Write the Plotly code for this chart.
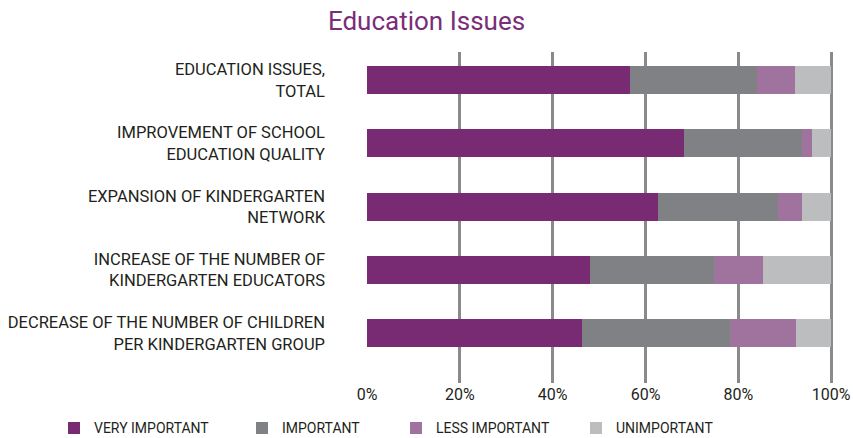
import plotly.graph_objects as go

categories = [
    "EDUCATION ISSUES,<br>TOTAL",
    "IMPROVEMENT OF SCHOOL<br>EDUCATION QUALITY",
    "EXPANSION OF KINDERGARTEN<br>NETWORK",
    "INCREASE OF THE NUMBER OF<br>KINDERGARTEN EDUCATORS",
    "DECREASE OF THE NUMBER OF CHILDREN<br>PER KINDERGARTEN GROUP",
]

very_important = [56.6, 68.4, 62.8, 48.0, 46.3]
important = [27.4, 25.3, 25.7, 26.7, 31.9]
less_important = [8.2, 2.1, 5.2, 10.6, 14.2]
unimportant = [7.8, 4.2, 6.3, 14.7, 7.6]

x_ticks = [0, 20, 40, 60, 80, 100]

FONT = "Roboto, sans-serif"
TEXT = "#231f20"

# name, values, colour, legend id, left pixel of legend swatch
series = [
    ("VERY IMPORTANT", very_important, "#782a73", "legend", 75),
    ("IMPORTANT", important, "#808184", "legend2", 263),
    ("LESS IMPORTANT", less_important, "#a0739e", "legend3", 417),
    ("UNIMPORTANT", unimportant, "#bcbdbf", "legend4", 597),
]

fig = go.Figure()

for name, vals, color, lg, _ in series:
    fig.add_trace(go.Bar(
        y=categories,
        x=vals,
        name=name,
        orientation="h",
        marker=dict(color=color, line=dict(width=0)),
        width=0.443,
        legend=lg,
    ))

legend_style = dict(
    orientation="h",
    yanchor="middle",
    y=-0.137,
    xanchor="left",
    font=dict(family=FONT, size=14, color=TEXT),
    bgcolor="rgba(0,0,0,0)",
    itemwidth=30,
)
legends = {}
for name, vals, color, lg, px in series:
    legends[lg] = dict(legend_style, x=(px - 21 - 367) / 466)

fig.update_layout(
    barmode="stack",
    width=853,
    height=438,
    margin=dict(l=367, r=20, t=52, b=55, autoexpand=False),
    plot_bgcolor="white",
    paper_bgcolor="white",
    title=dict(
        text="Education Issues",
        x=0.5,
        xanchor="center",
        y=0.953,
        yanchor="middle",
        font=dict(family=FONT, size=26, color="#7a2d78"),
    ),
    font=dict(family=FONT, color=TEXT),
    xaxis=dict(
        range=[0, 100.4],
        tickvals=x_ticks,
        ticktext=[f"{v}%" for v in x_ticks],
        showgrid=True,
        gridcolor="#8a8a8c",
        gridwidth=2.5,
        zeroline=False,
        showline=False,
        tickfont=dict(family=FONT, size=16, color=TEXT),
        ticks="",
        automargin=False,
    ),
    yaxis=dict(
        type="category",
        range=[4.79, -0.443],
        showgrid=False,
        tickfont=dict(family=FONT, size=16.5, color=TEXT),
        ticklabelstandoff=41,
        ticks="",
        automargin=False,
    ),
    showlegend=True,
    **legends,
)

# the page's default 8px body margin would shift the chart off the window
fig.write_html(
    "out.html",
    config={"displayModeBar": False},
    post_script="document.body.style.margin='0';",
)
